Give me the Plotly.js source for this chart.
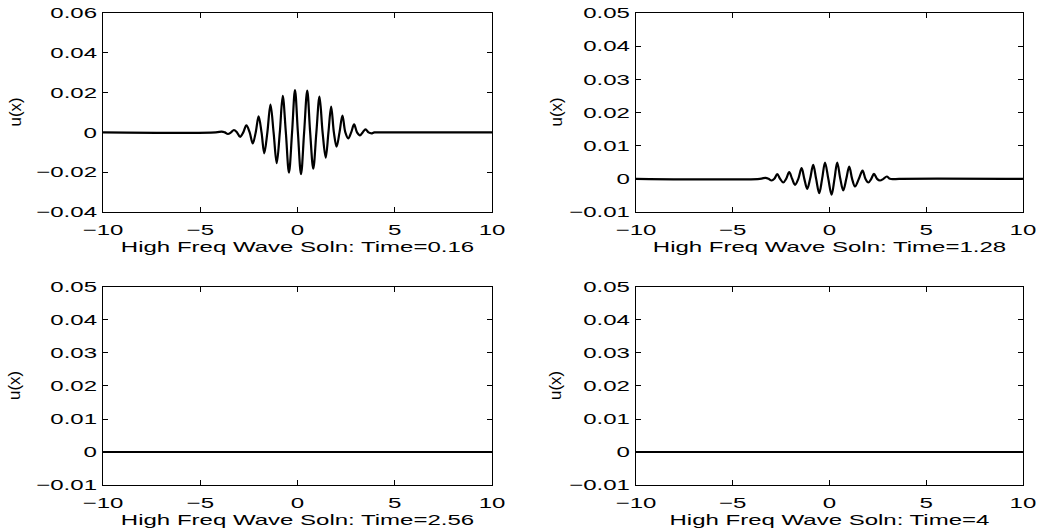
<!DOCTYPE html>
<html>
<head>
<meta charset="utf-8">
<script src="https://cdn.plot.ly/plotly-3.0.1.min.js"></script>
<style>
html, body { margin: 0; padding: 0; background: #fff; }
#chart { width: 1045px; height: 530px; }
</style>
</head>
<body>
<div id="chart"></div>
<script>
// Panel 1: Time = 0.16 (extrema and zero crossings)
const xT016 = [-10, -4.2, -3.90, -3.74, -3.58, -3.42, -3.27, -3.11, -2.96, -2.79, -2.63, -2.46, -2.30, -2.15, -2.00, -1.85, -1.71, -1.55, -1.39, -1.23, -1.07, -0.91, -0.76, -0.60, -0.44, -0.28, -0.13, 0.02, 0.18, 0.34, 0.50, 0.65, 0.81, 0.97, 1.13, 1.29, 1.45, 1.59, 1.73, 1.87, 2.01, 2.16, 2.31, 2.46, 2.61, 2.76, 2.91, 3.06, 3.21, 3.35, 3.50, 3.65, 3.80, 3.95, 4.3, 10];
const yT016 = [0, 0, 0.0004, 0, -0.0008, 0, 0.0012, 0, -0.0022, 0, 0.0035, 0, -0.0055, 0, 0.0080, 0, -0.0105, 0, 0.0140, 0, -0.0155, 0, 0.0183, 0, -0.0202, 0, 0.0212, 0, -0.0210, 0, 0.0210, 0, -0.0182, 0, 0.0180, 0, -0.0127, 0, 0.0130, 0, -0.0072, 0, 0.0085, 0, -0.0030, 0, 0.0040, 0, -0.0015, 0, 0.0015, 0, -0.0005, 0, 0, 0];

// Panel 2: Time = 1.28
const xT128 = [-10, -3.6, -3.30, -3.15, -2.99, -2.85, -2.70, -2.55, -2.39, -2.24, -2.08, -1.93, -1.78, -1.61, -1.44, -1.30, -1.15, -1.00, -0.84, -0.69, -0.53, -0.38, -0.23, -0.06, 0.11, 0.26, 0.40, 0.56, 0.71, 0.87, 1.02, 1.17, 1.32, 1.52, 1.71, 1.86, 2.01, 2.16, 2.30, 2.46, 2.61, 2.79, 2.96, 3.13, 3.30, 3.6, 10];
const yT128 = [0, 0, 0.0003, 0, -0.0005, 0, 0.0014, 0, -0.0011, 0, 0.0020, 0, -0.0018, 0, 0.0032, 0, -0.0030, 0, 0.0042, 0, -0.0043, 0, 0.0049, 0, -0.0048, 0, 0.0049, 0, -0.0035, 0, 0.0037, 0, -0.0023, 0, 0.0025, 0, -0.0011, 0, 0.0015, 0, -0.0005, 0, 0.0007, 0, -0.0001, 0, 0];

// Panel 3: Time = 2.56
const xT256 = [-10, 10];
const yT256 = [0, 0];

// Panel 4: Time = 4
const xT4 = [-10, 10];
const yT4 = [0, 0];

const panelTitles = ["High Freq Wave Soln: Time=0.16", "High Freq Wave Soln: Time=1.28",
                     "High Freq Wave Soln: Time=2.56", "High Freq Wave Soln: Time=4"];
const yLabel = "u(x)";
const xTicks = [-10, -5, 0, 5, 10];
const yTicksTop = [-0.04, -0.02, 0, 0.02, 0.04, 0.06];
const yTicksOther = [-0.01, 0, 0.01, 0.02, 0.03, 0.04, 0.05];

const lineStyle = {color: '#000', width: 2.2, shape: 'spline', smoothing: 1};
const traces = [
  {x: xT016, y: yT016, xaxis: 'x', yaxis: 'y'},
  {x: xT128, y: yT128, xaxis: 'x2', yaxis: 'y2'},
  {x: xT256, y: yT256, xaxis: 'x3', yaxis: 'y3'},
  {x: xT4, y: yT4, xaxis: 'x4', yaxis: 'y4'}
].map(t => Object.assign(t, {type: 'scatter', mode: 'lines', line: lineStyle, hoverinfo: 'skip', showlegend: false}));

const font = {family: 'Liberation Sans, Arial, sans-serif', size: 15, color: '#000'};
const yTitleFont = {family: 'Liberation Sans, Arial, sans-serif', size: 17, color: '#000'};
function xa(domain, anchor, title) {
  return {domain: domain, anchor: anchor, range: [-10, 10], tickvals: xTicks,
    ticks: 'inside', ticklen: 5, tickwidth: 1, tickcolor: '#000',
    showline: true, linecolor: '#000', linewidth: 1, mirror: 'allticks',
    showgrid: false, zeroline: false, tickfont: font, ticklabelstandoff: 4,
    title: {text: title, font: font, standoff: 3}};
}
function ya(domain, anchor, range, ticks) {
  return {domain: domain, anchor: anchor, range: range, tickvals: ticks,
    ticks: 'inside', ticklen: 5, tickwidth: 1, tickcolor: '#000',
    showline: true, linecolor: '#000', linewidth: 1, mirror: 'allticks',
    showgrid: false, zeroline: false, tickfont: font, ticklabelstandoff: 2};
}
const L = [0.0986, 0.4708], R = [0.6086, 0.9789];
const T = [0.6, 0.9755], B = [0.0849, 0.4585];
function yTitle(xpx, dom) {
  return {text: yLabel, xref: 'paper', yref: 'paper', x: xpx / 1045, y: (dom[0] + dom[1]) / 2,
    xanchor: 'center', yanchor: 'middle', textangle: -90, showarrow: false, font: yTitleFont};
}
const layout = {
  width: 1045, height: 530,
  margin: {l: 0, r: 0, t: 0, b: 0},
  paper_bgcolor: '#fff', plot_bgcolor: '#fff',
  font: font,
  showlegend: false,
  xaxis: xa(L, 'y', panelTitles[0]),
  yaxis: ya(T, 'x', [-0.04, 0.06], yTicksTop),
  xaxis2: xa(R, 'y2', panelTitles[1]),
  yaxis2: ya(T, 'x2', [-0.01, 0.05], yTicksOther),
  xaxis3: xa(L, 'y3', panelTitles[2]),
  yaxis3: ya(B, 'x3', [-0.01, 0.05], yTicksOther),
  xaxis4: xa(R, 'y4', panelTitles[3]),
  yaxis4: ya(B, 'x4', [-0.01, 0.05], yTicksOther),
  annotations: [yTitle(15, T), yTitle(556, T), yTitle(15, B), yTitle(556, B)]
};

// The reference lettering is horizontally wide; stretch the tick labels and x titles.
const STRETCH = 1.6;
function widenText() {
  document.querySelectorAll('#chart g[class*="tick"] text, #chart g[class^="g-x"] text').forEach(t => {
    t.removeAttribute('textLength');
    const w = t.getComputedTextLength();
    if (w > 0) {
      t.setAttribute('textLength', (w * STRETCH).toFixed(1));
      t.setAttribute('lengthAdjust', 'spacingAndGlyphs');
    }
  });
}
Plotly.newPlot('chart', traces, layout, {staticPlot: true, displayModeBar: false}).then(widenText);
</script>
</body>
</html>
